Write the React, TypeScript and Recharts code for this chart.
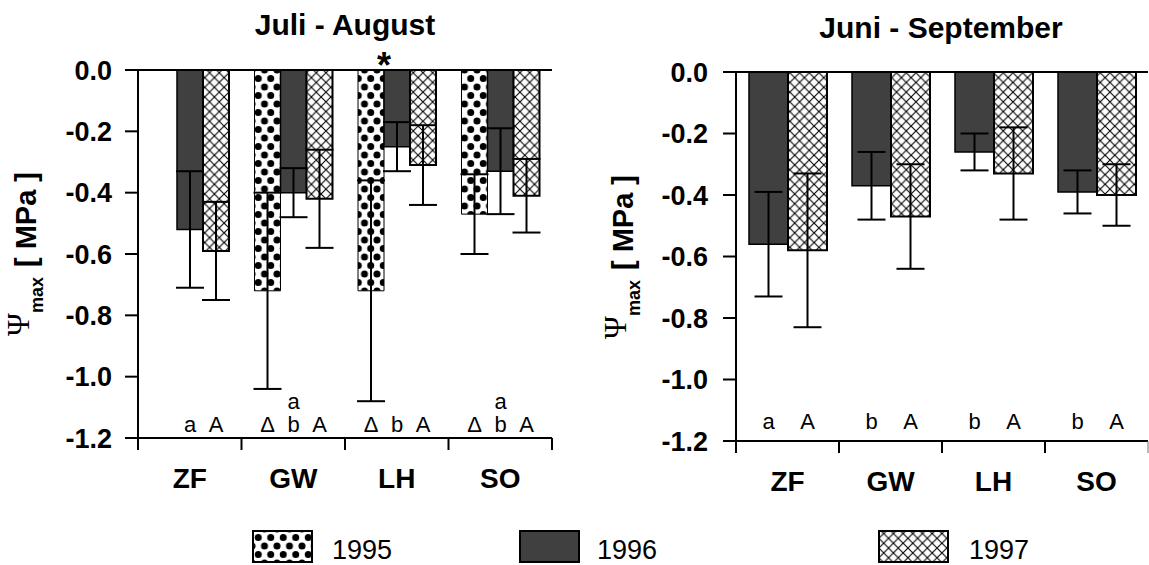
import { BarChart, Bar, XAxis, YAxis, ErrorBar, ReferenceLine, LabelList } from 'recharts'

const SANS = '"Liberation Sans", Arial, sans-serif'
const SERIF = '"Liberation Serif", "Times New Roman", serif'

const sites = ['ZF', 'GW', 'LH', 'SO']
const yTicks = [0, -0.2, -0.4, -0.6, -0.8, -1.0, -1.2]
const years = ['1995', '1996', '1997']

// Juli - August: means and standard deviations (MPa)
const julAug1995 = [null, -0.72, -0.72, -0.47]
const julAug1995Sd = [null, 0.32, 0.36, 0.13]
const julAug1996 = [-0.52, -0.4, -0.25, -0.33]
const julAug1996Sd = [0.19, 0.08, 0.08, 0.14]
const julAug1997 = [-0.59, -0.42, -0.31, -0.41]
const julAug1997Sd = [0.16, 0.16, 0.13, 0.12]

// Juni - September
const junSep1996 = [-0.56, -0.37, -0.26, -0.39]
const junSep1996Sd = [0.17, 0.11, 0.06, 0.07]
const junSep1997 = [-0.58, -0.47, -0.33, -0.4]
const junSep1997Sd = [0.25, 0.17, 0.15, 0.1]

// significance letters under each bar
const julAugMarks1995 = ['', 'Δ', 'Δ', 'Δ']
const julAugMarks1996 = ['a', 'b', 'b', 'b']
const julAugMarks1996Upper = ['', 'a', '', 'a']
const julAugMarks1997 = ['A', 'A', 'A', 'A']
const julAugStars1995 = ['', '', '*', '']
const junSepMarks1996 = ['a', 'b', 'b', 'b']
const junSepMarks1997 = ['A', 'A', 'A', 'A']

const julAugData = sites.map((site, i) => ({
  site,
  y95: julAug1995[i],
  sd95: julAug1995Sd[i],
  y96: julAug1996[i],
  sd96: julAug1996Sd[i],
  y97: julAug1997[i],
  sd97: julAug1997Sd[i],
  m95: julAugMarks1995[i],
  m96: julAugMarks1996[i],
  m96up: julAugMarks1996Upper[i],
  m97: julAugMarks1997[i],
  star: julAugStars1995[i],
}))

const junSepData = sites.map((site, i) => ({
  site,
  y96: junSep1996[i],
  sd96: junSep1996Sd[i],
  y97: junSep1997[i],
  sd97: junSep1997Sd[i],
  m96: junSepMarks1996[i],
  m97: junSepMarks1997[i],
}))

const DOTS = 'url(#dots95)'
const CROSS = 'url(#cross97)'
const DARK = '#404040'

// per-panel geometry
const L = { x: 0, w: 560, top: 70, plotH: 368, yAxisW: 138, right: 8 }
const R = { x: 590, w: 559, top: 72, plotH: 369, yAxisW: 146, right: 1 }
const H = 565
const X_AXIS_H = 60
const HATCH = 9.7

const fmt = (v: number) => v.toFixed(1)

function siteTick(band: number, lastStroke: string, lastWidth: number) {
  return (props: any) => {
    const { x, y, payload, index } = props
    const last = index === sites.length - 1
    return (
      <g>
        <line x1={x - band / 2} x2={x - band / 2} y1={y} y2={y + 12} stroke="#000" strokeWidth={2} />
        {last && (
          <line x1={x + band / 2} x2={x + band / 2} y1={y} y2={y + 12} stroke={lastStroke} strokeWidth={lastWidth} />
        )}
        <text x={x} y={y + 50} textAnchor="middle" fontFamily={SANS} fontWeight="bold" fontSize={28} fill="#000">
          {payload.value}
        </text>
      </g>
    )
  }
}

function markLabel(baseline: number) {
  return (props: any) => {
    const { x, width, value } = props
    if (!value) return null
    return (
      <text x={x + width / 2} y={baseline} textAnchor="middle" fontFamily={SANS} fontSize={22} fill="#000">
        {value}
      </text>
    )
  }
}

const starLabel = (props: any) => {
  const { x, width, value } = props
  if (!value) return null
  return (
    <text x={x + width} y={78} textAnchor="middle" fontFamily={SANS} fontWeight="bold" fontSize={36} fill="#000">
      {value}
    </text>
  )
}

function YLabel({ x, y }: { x: number; y: number }) {
  return (
    <text transform={`rotate(-90, ${x}, ${y})`} x={x} y={y} textAnchor="middle" fill="#000">
      <tspan fontFamily={SERIF} fontSize={31} dy={-7}>Ψ</tspan>
      <tspan fontFamily={SANS} fontWeight="bold" fontSize={18} dy={14}>max</tspan>
      <tspan fontFamily={SANS} fontWeight="bold" fontSize={29} dy={-7} dx={10}>[ MPa ]</tspan>
    </text>
  )
}

const legendItems = [
  { label: years[0], fill: DOTS, x: 253, w: 59, tx: 332 },
  { label: years[1], fill: DARK, x: 520, w: 59, tx: 597 },
  { label: years[2], fill: CROSS, x: 879, w: 69, tx: 969 },
]

export default function App() {
  const leftBand = (L.w - L.yAxisW - L.right) / sites.length
  const rightBand = (R.w - R.yAxisW - R.right) / sites.length
  const leftBottom = L.top + L.plotH
  const rightBottom = R.top + R.plotH

  return (
    <div style={{ position: 'absolute', left: 0, top: 0, width: 1149, height: H, background: '#fff', overflow: 'hidden' }}>
      <svg width={1149} height={H} style={{ position: 'absolute', left: 0, top: 0 }}>
        <defs>
          <pattern id="dots95" patternUnits="userSpaceOnUse" x={2} y={2} width={12.5} height={17}>
            <rect width={12.5} height={17} fill="#fff" />
            <circle cx={0} cy={0} r={3.5} fill="#000" />
            <circle cx={12.5} cy={0} r={3.5} fill="#000" />
            <circle cx={0} cy={17} r={3.5} fill="#000" />
            <circle cx={12.5} cy={17} r={3.5} fill="#000" />
            <circle cx={6.25} cy={8.5} r={3.5} fill="#000" />
          </pattern>
          <pattern id="cross97" patternUnits="userSpaceOnUse" x={1} y={0} width={HATCH} height={HATCH}>
            <rect width={HATCH} height={HATCH} fill="#fff" />
            <path d={`M0 0L${HATCH} ${HATCH}M${HATCH} 0L0 ${HATCH}`} stroke="#000" strokeWidth={1.1} />
          </pattern>
        </defs>
      </svg>

      <div style={{ position: 'absolute', left: L.x, top: 0 }}>
        <BarChart
          width={L.w}
          height={H}
          data={julAugData}
          margin={{ top: L.top, right: L.right, left: 0, bottom: H - L.top - L.plotH - X_AXIS_H }}
          barSize={26}
          barGap={0}
        >
          <XAxis
            dataKey="site"
            height={X_AXIS_H}
            axisLine={{ stroke: '#000', strokeWidth: 2 }}
            tickLine={false}
            tickSize={0}
            tickMargin={0}
            interval={0}
            tick={siteTick(leftBand, '#000', 2)}
          />
          <YAxis
            width={L.yAxisW}
            domain={[-1.2, 0]}
            ticks={yTicks}
            tickFormatter={fmt}
            tickSize={13}
            tickMargin={13}
            axisLine={{ stroke: '#000', strokeWidth: 2 }}
            tickLine={{ stroke: '#000', strokeWidth: 2 }}
            tick={{ fill: '#000', fontSize: 27, fontWeight: 'bold', fontFamily: SANS }}
          />
          <YAxis
            yAxisId="edge"
            orientation="right"
            width={0}
            domain={[-1.2, 0]}
            tick={false}
            tickLine={false}
            axisLine={{ stroke: '#000', strokeWidth: 2 }}
          />
          <ReferenceLine y={0} stroke="#000" strokeWidth={2} />
          <Bar dataKey="y95" fill={DOTS} stroke="#000" strokeWidth={1} isAnimationActive={false}>
            <ErrorBar dataKey="sd95" width={14} stroke="#000" strokeWidth={2} />
            <LabelList dataKey="m95" content={markLabel(leftBottom - 6)} />
            <LabelList dataKey="star" content={starLabel} />
          </Bar>
          <Bar dataKey="y96" fill={DARK} stroke="#000" strokeWidth={1.5} isAnimationActive={false}>
            <ErrorBar dataKey="sd96" width={14} stroke="#000" strokeWidth={2} />
            <LabelList dataKey="m96" content={markLabel(leftBottom - 6)} />
            <LabelList dataKey="m96up" content={markLabel(leftBottom - 29)} />
          </Bar>
          <Bar dataKey="y97" fill={CROSS} stroke="#000" strokeWidth={2} isAnimationActive={false}>
            <ErrorBar dataKey="sd97" width={14} stroke="#000" strokeWidth={2} />
            <LabelList dataKey="m97" content={markLabel(leftBottom - 6)} />
          </Bar>
        </BarChart>
      </div>

      <div style={{ position: 'absolute', left: R.x, top: 0 }}>
        <BarChart
          width={R.w}
          height={H}
          data={junSepData}
          margin={{ top: R.top, right: R.right, left: 0, bottom: H - R.top - R.plotH - X_AXIS_H }}
          barSize={39}
          barGap={0}
        >
          <XAxis
            dataKey="site"
            height={X_AXIS_H}
            axisLine={{ stroke: '#000', strokeWidth: 2 }}
            tickLine={false}
            tickSize={0}
            tickMargin={0}
            interval={0}
            tick={siteTick(rightBand, '#777', 1)}
          />
          <YAxis
            width={R.yAxisW}
            domain={[-1.2, 0]}
            ticks={yTicks}
            tickFormatter={fmt}
            tickSize={13}
            tickMargin={15}
            axisLine={{ stroke: '#000', strokeWidth: 2 }}
            tickLine={{ stroke: '#000', strokeWidth: 2 }}
            tick={{ fill: '#000', fontSize: 27, fontWeight: 'bold', fontFamily: SANS }}
          />
          <YAxis
            yAxisId="edge"
            orientation="right"
            width={0}
            domain={[-1.2, 0]}
            tick={false}
            tickLine={false}
            axisLine={{ stroke: '#777', strokeWidth: 1 }}
          />
          <ReferenceLine y={0} stroke="#000" strokeWidth={2} />
          <Bar dataKey="y96" fill={DARK} stroke="#000" strokeWidth={1.5} isAnimationActive={false}>
            <ErrorBar dataKey="sd96" width={14} stroke="#000" strokeWidth={2} />
            <LabelList dataKey="m96" content={markLabel(rightBottom - 12)} />
          </Bar>
          <Bar dataKey="y97" fill={CROSS} stroke="#000" strokeWidth={2} isAnimationActive={false}>
            <ErrorBar dataKey="sd97" width={14} stroke="#000" strokeWidth={2} />
            <LabelList dataKey="m97" content={markLabel(rightBottom - 12)} />
          </Bar>
        </BarChart>
      </div>

      <svg width={1149} height={H} style={{ position: 'absolute', left: 0, top: 0, pointerEvents: 'none' }}>
        <text x={345} y={35} textAnchor="middle" fontFamily={SANS} fontWeight="bold" fontSize={30} fill="#000">
          Juli - August
        </text>
        <text x={941} y={38} textAnchor="middle" fontFamily={SANS} fontWeight="bold" fontSize={30} fill="#000">
          Juni - September
        </text>
        <YLabel x={36} y={254} />
        <YLabel x={633} y={257} />
        {legendItems.map((item) => (
          <g key={item.label}>
            <rect x={item.x} y={531} width={item.w} height={31} fill={item.fill} stroke="#000" strokeWidth={2} />
            <text x={item.tx} y={559} fontFamily={SANS} fontSize={27} fill="#000">
              {item.label}
            </text>
          </g>
        ))}
      </svg>
    </div>
  )
}
